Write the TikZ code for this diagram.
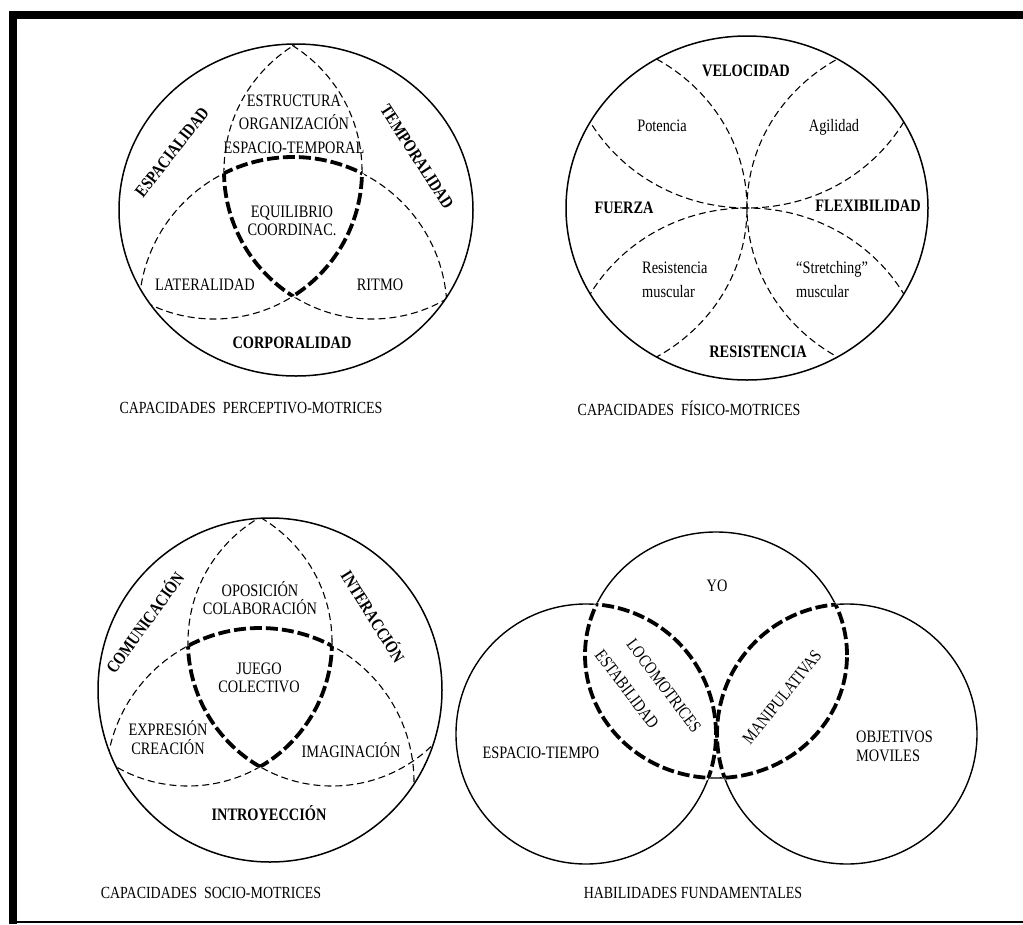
\documentclass[tikz,border=0pt]{standalone}
\usepackage{fontspec}
\setmainfont{Liberation Serif}[FakeStretch=0.82]
\begin{document}
\begin{tikzpicture}[x=1pt,y=-1pt,
  outl/.style={line width=1.5pt},
  sline/.style={line width=1.4pt},
  dline/.style={line width=1.1pt, dash pattern=on 7pt off 4pt},
  tline/.style={line width=3.8pt, dash pattern=on 12pt off 4pt},
  wline/.style={line width=5pt, white},
  lab/.style={inner sep=0pt, font=\fontsize{17.5}{18}\selectfont, align=center},
  blab/.style={inner sep=0pt, font=\fontsize{17.5}{18}\selectfont\bfseries, align=center},
  ttl/.style={inner sep=0pt, font=\fontsize{17}{18}\selectfont}]
\useasboundingbox (0,0) rectangle (1023,924);

% ---------- top-left: perceptivo-motrices ----------
\begin{scope}
  \clip (296,210) circle[x radius=177pt, y radius=166pt];
  \draw[dline] (372,171) circle[radius=148pt];
  \draw[dline] (214,171) circle[radius=148pt];
  \draw[dline] (293,311) circle[radius=154pt];
  \begin{scope}\clip (372,171) circle[radius=148pt]; \clip (214,171) circle[radius=148pt];
    \draw[wline] (293,311) circle[radius=154pt];\end{scope}
  \begin{scope}\clip (372,171) circle[radius=148pt]; \clip (293,311) circle[radius=154pt];
    \draw[wline] (214,171) circle[radius=148pt];\end{scope}
  \begin{scope}\clip (214,171) circle[radius=148pt]; \clip (293,311) circle[radius=154pt];
    \draw[wline] (372,171) circle[radius=148pt];\end{scope}
  \begin{scope}\clip (372,171) circle[radius=148pt]; \clip (214,171) circle[radius=148pt];
    \draw[tline] (293,311) circle[radius=154pt];\end{scope}
  \begin{scope}\clip (372,171) circle[radius=148pt]; \clip (293,311) circle[radius=154pt];
    \draw[tline] (214,171) circle[radius=148pt];\end{scope}
  \begin{scope}\clip (214,171) circle[radius=148pt]; \clip (293,311) circle[radius=154pt];
    \draw[tline] (372,171) circle[radius=148pt];\end{scope}
\end{scope}
\draw[outl] (296,210) circle[x radius=177pt, y radius=166pt];

\node[lab, font=\fontsize{17.5}{23.5}\selectfont] (estr) at (294,124) {ESTRUCTURA\\ORGANIZACIÓN\\ESPACIO-TEMPORAL};
\node[lab] (equi) at (292,221) {EQUILIBRIO\\COORDINAC.};
\node[lab] (late) at (205,285) {LATERALIDAD};
\node[lab] (ritm) at (380,285) {RITMO};
\node[blab] (corp) at (292,343) {CORPORALIDAD};
\node[blab, rotate=52] (espa) at (172,152) {ESPACIALIDAD};
\node[blab, rotate=-57] (temp) at (417,157) {TEMPORALIDAD};
\node[ttl] (t1) at (251,408) {CAPACIDADES\hspace{7pt}PERCEPTIVO-MOTRICES};

% ---------- top-right: fisico-motrices ----------
\begin{scope}
  \clip (747,208) circle[x radius=181pt, y radius=172pt];
  \draw[dline] (566,208) circle[x radius=181pt, y radius=172pt];
  \draw[dline] (928,208) circle[x radius=181pt, y radius=172pt];
  \draw[dline] (747,36) circle[x radius=181pt, y radius=172pt];
  \draw[dline] (747,380) circle[x radius=181pt, y radius=172pt];
\end{scope}
\draw[outl] (747,208) circle[x radius=181pt, y radius=172pt];

\node[blab] (velo) at (746,71) {VELOCIDAD};
\node[lab] (pote) at (662,126) {Potencia};
\node[lab] (agil) at (834,127) {Agilidad};
\node[blab] (fuer) at (624,208) {FUERZA};
\node[blab] (flex) at (868,206) {FLEXIBILIDAD};
\node[lab, align=left, anchor=west, font=\fontsize{17.5}{24}\selectfont] (resm) at (642,280) {Resistencia\\muscular};
\node[lab, align=left, anchor=west, font=\fontsize{17.5}{24}\selectfont] (strm) at (796,280) {“Stretching”\\muscular};
\node[blab] (resi) at (758,352) {RESISTENCIA};
\node[ttl] (t2) at (689,408) {CAPACIDADES\hspace{7pt}FÍSICO-MOTRICES};

% ---------- bottom-left: socio-motrices ----------
\begin{scope}
  \clip (270,690) circle[radius=172pt];
  \draw[dline] (332,642) circle[radius=144pt];
  \draw[dline] (188,642) circle[radius=144pt];
  \draw[dline] (260,782) circle[radius=154pt];
  \begin{scope}\clip (332,642) circle[radius=144pt]; \clip (188,642) circle[radius=144pt];
    \draw[wline] (260,782) circle[radius=154pt];\end{scope}
  \begin{scope}\clip (332,642) circle[radius=144pt]; \clip (260,782) circle[radius=154pt];
    \draw[wline] (188,642) circle[radius=144pt];\end{scope}
  \begin{scope}\clip (188,642) circle[radius=144pt]; \clip (260,782) circle[radius=154pt];
    \draw[wline] (332,642) circle[radius=144pt];\end{scope}
  \begin{scope}\clip (332,642) circle[radius=144pt]; \clip (188,642) circle[radius=144pt];
    \draw[tline] (260,782) circle[radius=154pt];\end{scope}
  \begin{scope}\clip (332,642) circle[radius=144pt]; \clip (260,782) circle[radius=154pt];
    \draw[tline] (188,642) circle[radius=144pt];\end{scope}
  \begin{scope}\clip (188,642) circle[radius=144pt]; \clip (260,782) circle[radius=154pt];
    \draw[tline] (332,642) circle[radius=144pt];\end{scope}
\end{scope}
\draw[outl] (270,690) circle[radius=172pt];

\node[blab, rotate=54] (comu) at (144,622) {COMUNICACIÓN};
\node[blab, rotate=-58] (inte) at (374,616) {INTERACCIÓN};
\node[lab] (opos) at (260,598) {OPOSICIÓN\\COLABORACIÓN};
\node[lab] (jueg) at (259,678) {JUEGO\\COLECTIVO};
\node[lab, font=\fontsize{17.5}{19}\selectfont] (expr) at (168,738) {EXPRESIÓN\\CREACIÓN};
\node[lab] (imag) at (351,750) {IMAGINACIÓN};
\node[blab] (intr) at (269,813) {INTROYECCIÓN};
\node[ttl] (t3) at (211,893) {CAPACIDADES\hspace{7pt}SOCIO-MOTRICES};

% ---------- bottom-right: habilidades ----------
\draw[sline] (716,655) circle[x radius=131pt, y radius=123pt];
\draw[sline] (586,734) circle[radius=130pt];
\draw[sline] (847,734) circle[radius=130pt];
\begin{scope}\clip (586,734) circle[radius=130pt];
  \draw[wline] (716,655) circle[x radius=131pt, y radius=123pt];\end{scope}
\begin{scope}\clip (716,655) circle[x radius=131pt, y radius=123pt];
  \draw[wline] (586,734) circle[radius=130pt];\end{scope}
\begin{scope}\clip (847,734) circle[radius=130pt];
  \draw[wline] (716,655) circle[x radius=131pt, y radius=123pt];\end{scope}
\begin{scope}\clip (716,655) circle[x radius=131pt, y radius=123pt];
  \draw[wline] (847,734) circle[radius=130pt];\end{scope}
\begin{scope}\clip (586,734) circle[radius=130pt];
  \draw[tline] (716,655) circle[x radius=131pt, y radius=123pt];\end{scope}
\begin{scope}\clip (716,655) circle[x radius=131pt, y radius=123pt];
  \draw[tline] (586,734) circle[radius=130pt];\end{scope}
\begin{scope}\clip (847,734) circle[radius=130pt];
  \draw[tline] (716,655) circle[x radius=131pt, y radius=123pt];\end{scope}
\begin{scope}\clip (716,655) circle[x radius=131pt, y radius=123pt];
  \draw[tline] (847,734) circle[radius=130pt];\end{scope}

\node[lab] (yo) at (717,586) {YO};
\node[lab] (espt) at (541,753) {ESPACIO-TIEMPO};
\node[lab, align=left, anchor=west, font=\fontsize{17.5}{19}\selectfont] (obje) at (856,746) {OBJETIVOS\\MOVILES};
\node[lab, rotate=-53] (loco) at (664,686) {LOCOMOTRICES};
\node[lab, rotate=-53] (esta) at (627,689) {ESTABILIDAD};
\node[lab, rotate=51] (mani) at (782,697) {MANIPULATIVAS};
\node[ttl] (t4) at (693,893) {HABILIDADES FUNDAMENTALES};

% ---------- frame ----------
\fill (9,11) rectangle (1023,19);
\fill (9,11) rectangle (17,924);
\draw[line width=1.5pt] (17,922) -- (1023,922);
\end{tikzpicture}
\end{document}
